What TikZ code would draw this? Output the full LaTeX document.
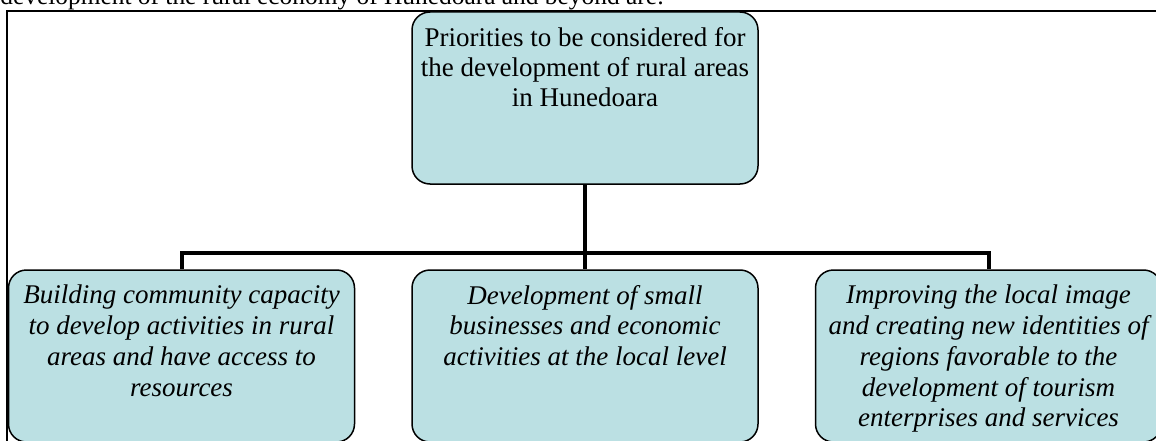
\documentclass[tikz,border=0pt]{standalone}
\usepackage{fontspec}
\setmainfont{Liberation Serif}
\definecolor{boxfill}{RGB}{187,224,227}
\begin{document}
\begin{tikzpicture}[
            x=0.5pt, y=0.5pt,
            prio/.style={draw, line width=0.75pt, fill=boxfill, rounded corners=9pt,
                inner xsep=1.5pt, inner ysep=7.5pt,
                font=\fontsize{13.5pt}{15pt}\selectfont,
                execute at begin node={\begin{minipage}[c][71pt][t]{170pt}\centering},
                execute at end node={\end{minipage}}},
            goal/.style={prio, font=\fontsize{13.5pt}{15.4pt}\selectfont\itshape},
            level distance=129pt,
            level 1/.style={sibling distance=201.75pt},
            edge from parent/.style={draw, line width=2pt},
            edge from parent path={(\tikzparentnode.south) -- ++(0,-34.25pt) -| (\tikzchildnode.north)}
            ]
            \useasboundingbox (0,0) rectangle (1156,440);
            \clip (0,0) rectangle (1156,440);
            % sentence above the frame, cut by the page edge
            \node[anchor=base west, inner sep=0pt, font=\fontsize{12.7pt}{15pt}\selectfont] (intro) at (0,435)
                {development of the rural economy of Hunedoara and beyond are:};
            \draw[line width=0.75pt] (7,429) rectangle (1170,-20);
            \node[prio] (prio) at (585,342) {Priorities to be considered for\\the development of rural areas\\in Hunedoara}
                child { node[goal] (capacity) {Building community capacity\\to develop activities in rural\\areas and have access to\\resources} }
                child { node[goal] (business) {Development of small\\businesses and economic\\activities at the local level} }
                child { node[goal] (image) {Improving the local image\\and creating new identities of\\regions favorable to the\\development of tourism\\enterprises and services} }
                ;
        \end{tikzpicture}
\end{document}
